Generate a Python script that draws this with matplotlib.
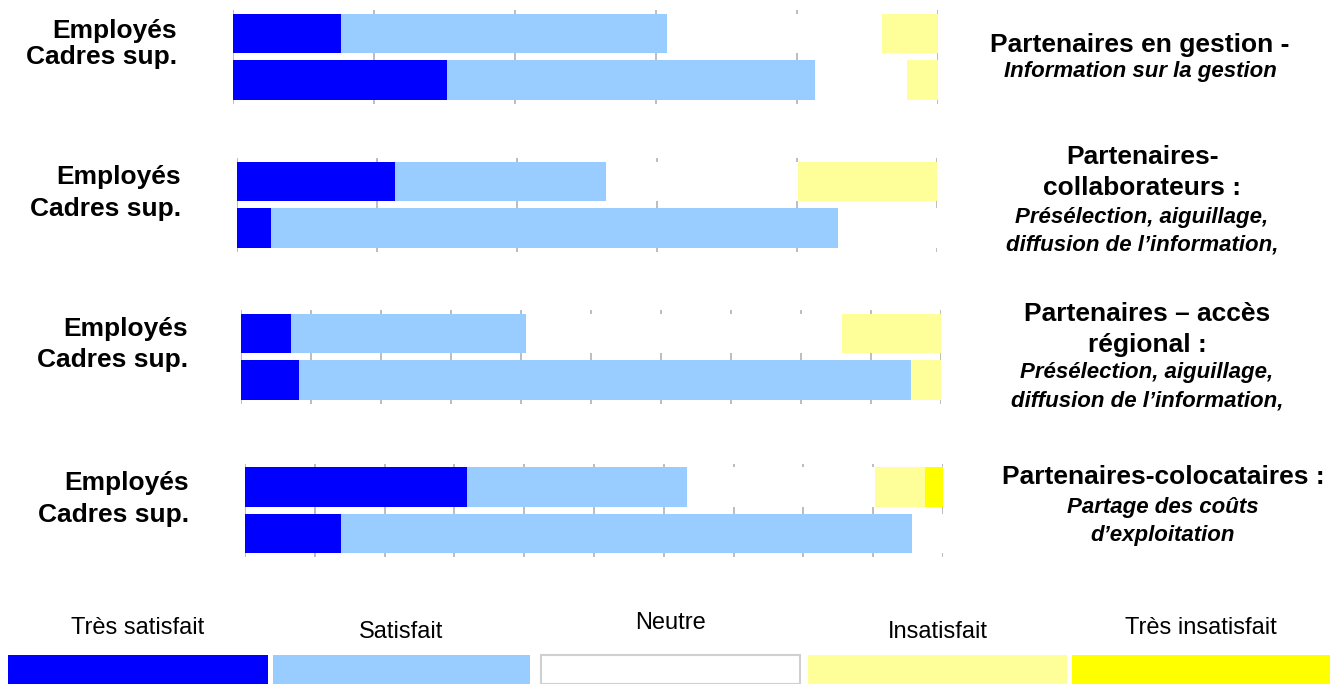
import matplotlib
matplotlib.use("Agg")
import matplotlib.pyplot as plt
from matplotlib.patches import Rectangle

plt.rcParams['font.family'] = ['Liberation Sans', 'DejaVu Sans']

# ---------------- data ----------------
categories = ["Très satisfait", "Satisfait", "Neutre", "Insatisfait", "Très insatisfait"]
colors = ["#0000FF", "#99CCFF", "#FFFFFF", "#FFFF99", "#FFFF00"]
groups = ["Employés", "Cadres sup."]

p1_employes = [15.3, 46.2, 30.6, 7.9, 0.0]
p1_cadres = [30.4, 52.2, 13.0, 4.4, 0.0]
p2_employes = [22.6, 30.1, 27.4, 19.9, 0.0]
p2_cadres = [4.9, 81.0, 14.1, 0.0, 0.0]
p3_employes = [7.1, 33.6, 45.1, 14.2, 0.0]
p3_cadres = [8.3, 87.4, 0.0, 4.3, 0.0]
p4_employes = [31.8, 31.5, 26.9, 7.2, 2.6]
p4_cadres = [13.8, 81.7, 4.5, 0.0, 0.0]

titles_bold = [
    ["Partenaires en gestion -"],
    ["Partenaires-", "collaborateurs :"],
    ["Partenaires – accès", "régional :"],
    ["Partenaires-colocataires :"],
]
titles_italic = [
    ["Information sur la gestion"],
    ["Présélection, aiguillage,", "diffusion de l’information,"],
    ["Présélection, aiguillage,", "diffusion de l’information,"],
    ["Partage des coûts", "d’exploitation"],
]
grid_steps = [20, 20, 10, 10]
panel_data = [(p1_employes, p1_cadres), (p2_employes, p2_cadres),
              (p3_employes, p3_cadres), (p4_employes, p4_cadres)]

# ---------------- layout (pixels) ----------------
W, H = 1330, 684
fig = plt.figure(figsize=(W / 100, H / 100), dpi=100)

panel_boxes = [  # left, right, top, bottom
    (233, 938, 10, 104),
    (237, 937, 158, 252),
    (241, 941, 310, 404),
    (245, 943, 464, 557),
]
label_pos = [  # right edge x, y for Employés, y for Cadres
    (177, 31, 57),
    (181, 177, 209),
    (188, 329, 360),
    (189, 483, 515),
]
title_pos = [  # center x, list of y
    (1140, [45, 71]),
    (1142, [157, 188, 217, 245]),
    (1147, [314, 345, 373, 401]),
    (1163, [477, 508, 535]),
]

def fx(x):
    return x / W

def fy(y):
    return 1 - y / H

for i, (l, r, t, b) in enumerate(panel_boxes):
    ax = fig.add_axes([fx(l), fy(b), (r - l) / W, (b - t) / H])
    emp, cad = panel_data[i]
    for j, vals in enumerate([emp, cad]):
        left = 0.0
        for k, v in enumerate(vals):
            if v > 0:
                ax.barh(j, v, left=left, height=0.85, color=colors[k],
                        edgecolor='none', zorder=3)
            left += v
    ax.set_xlim(0, 100)
    ax.set_ylim(1.51, -0.5)
    ax.set_xticks(range(0, 101, grid_steps[i]))
    ax.set_yticks([])
    ax.grid(axis='x', color='#B8B8B8', linewidth=1.3, zorder=0)
    ax.set_axisbelow(True)
    ax.tick_params(axis='both', length=0, labelbottom=False, labelleft=False)
    for s in ax.spines.values():
        s.set_visible(False)

    # group labels
    rx, y1, y2 = label_pos[i]
    fig.text(fx(rx), fy(y1), groups[0], ha='right', va='center',
             fontsize=19, fontweight='bold')
    fig.text(fx(rx), fy(y2), groups[1], ha='right', va='center',
             fontsize=19, fontweight='bold')

    # titles on the right
    cx, ys = title_pos[i]
    lines = [(s, 'bold') for s in titles_bold[i]] + [(s, 'italic') for s in titles_italic[i]]
    for (s, kind), y in zip(lines, ys):
        if kind == 'bold':
            fig.text(fx(cx), fy(y), s, ha='center', va='center',
                     fontsize=19, fontweight='bold')
        else:
            fig.text(fx(cx), fy(y), s, ha='center', va='center',
                     fontsize=16, fontweight='bold', fontstyle='italic')

# ---------------- legend ----------------
leg_boxes = [(8, 268), (273, 530), (541, 800), (808, 1067), (1072, 1330)]
leg_label_y = [628, 632, 623, 632, 628]
for k, (x0, x1) in enumerate(leg_boxes):
    edge = '#D0D0D0' if colors[k] == '#FFFFFF' else 'none'
    rect = Rectangle((fx(x0), 0), (x1 - x0) / W, (684 - 655) / H,
                     transform=fig.transFigure, facecolor=colors[k],
                     edgecolor=edge, linewidth=1.5)
    fig.patches.append(rect)
    fig.text(fx((x0 + x1) / 2), fy(leg_label_y[k]), categories[k],
             ha='center', va='center', fontsize=17)

fig.savefig("out.png", dpi=100, facecolor='white')
